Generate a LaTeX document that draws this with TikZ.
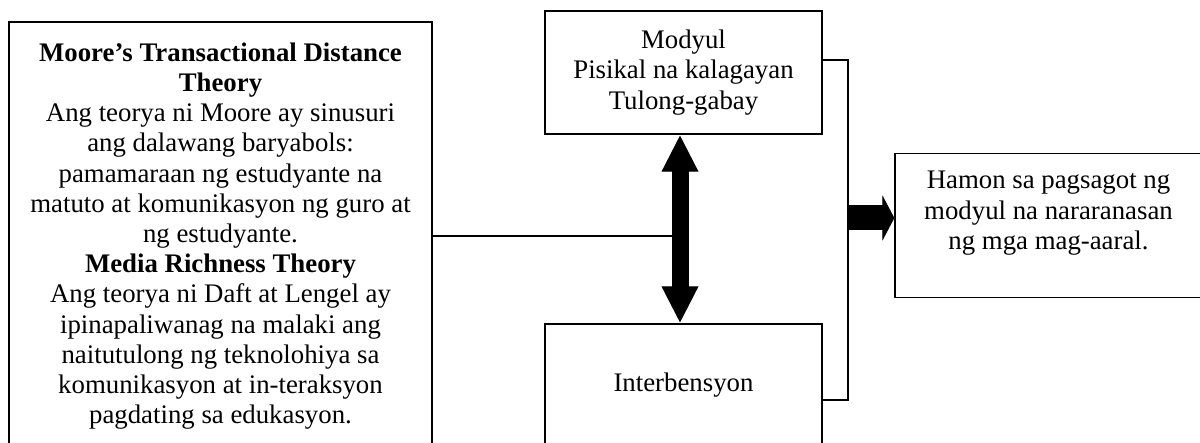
\documentclass[tikz,border=0pt]{standalone}
\usepackage{fontspec}
\setmainfont{Liberation Serif}
\usetikzlibrary{arrows.meta,positioning}

\begin{document}
\begin{tikzpicture}[x=0.5pt,y=-0.5pt,
    box/.style={draw,line width=0.65pt,align=center,inner sep=0pt,font=\fontsize{13.4pt}{15.1pt}\selectfont},
    link/.style={line width=0.65pt},
    fatV/.style={line width=8.5pt,{Triangle[length=18.5pt,width=17pt]}-{Triangle[length=18.5pt,width=17pt]}},
    fatH/.style={line width=12.5pt,-{Triangle[length=6pt,width=22.5pt]}},
    shade/.style={draw=gray!45,fill=gray!45}]
    \path[use as bounding box,clip] (0,0) rectangle (1200,443);
    % boxes
    \node[box,minimum width=211.5pt,minimum height=214pt] (theory) at (220.5,236) {\textbf{Moore’s Transactional Distance}\\\textbf{Theory}\\Ang teorya ni Moore ay sinusuri\\ang dalawang baryabols:\\pamamaraan ng estudyante na\\matuto at komunikasyon ng guro at\\ng estudyante.\\\textbf{Media Richness Theory}\\Ang teorya ni Daft at Lengel ay\\ipinapaliwanag na malaki ang\\naitutulong ng teknolohiya sa\\komunikasyon at in-teraksyon\\pagdating sa edukasyon.};
    \node[box,minimum width=138.5pt,minimum height=61.5pt] (modyul) at (683.5,72.5) {Modyul\\Pisikal na kalagayan\\Tulong-gabay};
    \node[box,minimum width=138.5pt,minimum height=61.5pt] (inter) at (683.5,385.5) {Interbensyon};
    \node[box,minimum width=153.5pt,minimum height=72pt] (hamon) at (1048.5,225.5) {Hamon sa pagsagot ng\\modyul na nararanasan\\ng mga mag-aaral.\\\mbox{}};
    \coordinate (bus) at (848,218);
    % connectors
    \draw[link] (theory.east) -- (theory.east -| modyul.south);
    \draw[link] ([yshift=6.25pt]modyul.east) -| (bus) |- ([yshift=-7.25pt]inter.east);
    \begin{scope}[xshift=1.5pt,yshift=-1.5pt]
      \draw[fatV,shade] ([xshift=-1.75pt]modyul.south) -- ([xshift=-1.75pt]inter.north);
      \draw[fatH,shade] (bus) -- (bus -| hamon.west);
    \end{scope}
    \draw[fatV] ([xshift=-1.75pt]modyul.south) -- ([xshift=-1.75pt]inter.north);
    \draw[fatH] (bus) -- (bus -| hamon.west);
\end{tikzpicture}
\end{document}
